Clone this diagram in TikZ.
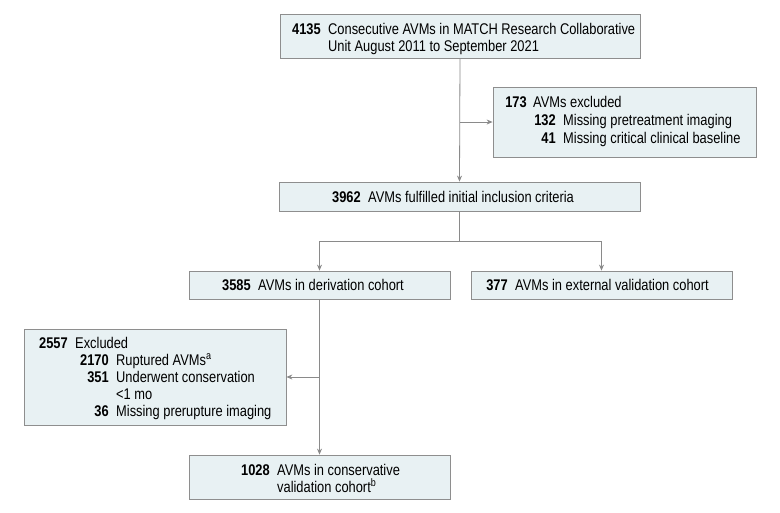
\documentclass[tikz,border=0pt]{standalone}
\usepackage{fontspec}
\setmainfont{Liberation Sans}[FakeStretch=0.83]
\usetikzlibrary{arrows.meta}
\definecolor{boxfill}{HTML}{E8F1F3}
\definecolor{boxline}{HTML}{8E8E8E}
\definecolor{linecol}{HTML}{8A8A8A}
\begin{document}
\begin{tikzpicture}[x=1pt,y=-1pt,
  box/.style={draw=boxline, fill=boxfill, line width=0.8pt, inner sep=0pt},
  num/.style={font=\bfseries\fontsize{15.5}{17}\selectfont, inner sep=0pt, anchor=base east},
  txt/.style={font=\fontsize{15.5}{17}\selectfont, inner sep=0pt, anchor=base west},
  conn/.style={draw=linecol, line width=0.8pt},
  arr/.style={conn, -{Stealth[length=6pt,width=5pt]}}]
\useasboundingbox[fill=white] (0,0) rectangle (780,512);
% boxes
\node[box, minimum width=360pt, minimum height=44pt] (b1) at (460,36) {};
\node[box, minimum width=263pt, minimum height=70pt] (b2) at (624.5,122) {};
\node[box, minimum width=361pt, minimum height=29pt] (b3) at (459.5,196.5) {};
\node[box, minimum width=261pt, minimum height=28pt] (b4) at (319.5,285) {};
\node[box, minimum width=261pt, minimum height=28pt] (b5) at (601.5,285) {};
\node[box, minimum width=262pt, minimum height=96pt] (b6) at (155,377) {};
\node[box, minimum width=261pt, minimum height=44pt] (b7) at (319.5,477) {};
% box 1 text
\node[num] (n1) at (321,34) {4135};
\node[txt] (t1a) at (328,34) {Consecutive AVMs in MATCH Research Collaborative};
\node[txt] (t1b) at (328,51) {Unit August 2011 to September 2021};
% box 2 text
\node[num] (n2a) at (527,107) {173};
\node[txt] (t2a) at (533,107) {AVMs excluded};
\node[num] (n2b) at (556,125) {132};
\node[txt] (t2b) at (563,125) {Missing pretreatment imaging};
\node[num] (n2c) at (556,143) {41};
\node[txt] (t2c) at (563,143) {Missing critical clinical baseline};
% box 3 text
\node[num] (n3) at (361,202) {3962};
\node[txt] (t3) at (368,202) {AVMs fulfilled initial inclusion criteria};
% box 4, 5 text
\node[num] (n4) at (251,290) {3585};
\node[txt] (t4) at (258,290) {AVMs in derivation cohort};
\node[num] (n5) at (508,290) {377};
\node[txt] (t5) at (515,290) {AVMs in external validation cohort};
% box 6 text
\node[num] (n6a) at (68,348) {2557};
\node[txt] (t6a) at (75,348) {Excluded};
\node[num] (n6b) at (109,365) {2170};
\node[txt] (t6b) at (116,365) {Ruptured AVMs\textsuperscript{a}};
\node[num] (n6c) at (109,382) {351};
\node[txt] (t6c) at (116,382) {Underwent conservation};
\node[txt] (t6d) at (116,399) {<1 mo};
\node[num] (n6e) at (109,416) {36};
\node[txt] (t6e) at (116,416) {Missing prerupture imaging};
% box 7 text
\node[num] (n7) at (270,475) {1028};
\node[txt] (t7a) at (277,475) {AVMs in conservative};
\node[txt] (t7b) at (277,492) {validation cohort\textsuperscript{b}};
% connectors
\coordinate (j1) at (b1.south |- b2.west);
\coordinate (sp) at (b3.south |- 0,241);
\coordinate (j2) at (b4.south |- b6.east);
\draw[arr] (b1.south) -- (b3.north);
\draw[arr] (j1) -- (b2.west);
\draw[conn] (b3.south) -- (sp);
\draw[arr] (sp) -| (b4.north);
\draw[arr] (sp) -| (b5.north);
\draw[arr] (b4.south) -- (b7.north);
\draw[arr] (j2) -- (b6.east);
\end{tikzpicture}
\end{document}
